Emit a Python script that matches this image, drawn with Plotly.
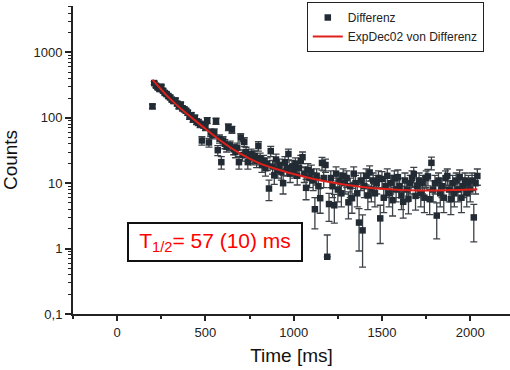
import numpy as np
import plotly.graph_objects as go

# --- data ---
time_ms = list(range(200, 2041, 10))
counts = [
    150, 340, 310, 290, 275, 300, 260, 240, 230, 215,
    205, 190, 180, 185, 165, 150, 160, 140, 135, 128,
    120, 105, 110, 95, 100, 88, 85, 80, 45, 78,
    72, 91, 42, 60, 55, 60, 89, 32, 48, 21,
    45, 40, 36, 72, 38, 66, 33, 30, 35, 21,
    50, 27, 43, 30, 21, 25, 28, 24, 26, 22,
    37, 24, 19, 22, 17, 20, 8.3, 31, 18, 13.2,
    23, 16, 19, 15, 10, 21, 17, 28, 14, 18,
    16, 20, 13, 17, 22, 25, 14, 8.5, 16, 12,
    15, 11, 4.0, 13, 9, 5.9, 20.4, 12, 19, 0.75,
    4.8, 12, 9, 4.6, 14, 8, 11, 7, 13, 10,
    12, 5.1, 9, 5.9, 14, 10, 7, 2.5, 11, 1.9,
    9, 13, 6.5, 14.6, 8, 11, 7, 10, 12, 2.9,
    11.6, 6, 9, 13, 7, 10, 5.5, 12, 8, 12.4,
    9, 6.5, 5.2, 11, 8, 5.8, 10, 12, 13.8, 6.4,
    9, 11, 7, 10, 6, 12, 12.7, 5.7, 20.5, 8,
    10, 3.2, 11, 7, 9, 6, 12, 12.9, 8, 5.7,
    10, 7, 11, 8, 12.4, 6, 9, 11, 7, 10,
    8, 11, 3.0, 10, 12.9,
]
cnt = np.array(counts, dtype=float)
err_plus = np.sqrt(cnt)
err_minus = np.where(err_plus < cnt, err_plus, 0.0)

fit_time = [200, 300, 400, 500, 600, 700, 800, 900, 1000, 1100, 1200, 1300,
            1400, 1500, 1600, 1700, 1800, 1900, 2000, 2040]
fit_counts = [385, 195, 112, 68, 42, 28, 20.5, 16.5, 13.8, 11.8, 10.4, 9.4,
              8.7, 8.2, 7.9, 7.75, 7.75, 7.85, 8.0, 8.1]

y_tickvals = [0.1, 1, 10, 100, 1000]
y_ticktext = ["0,1", "1", "10", "100", "1000"]
x_tickvals = [0, 500, 1000, 1500, 2000]

FONT = "Arial, Liberation Sans, sans-serif"
AX = "#222222"

minor_y = []
for d in [0.1, 1, 10, 100, 1000]:
    for k in range(2, 10):
        minor_y.append(d * k)

fig = go.Figure()
fig.add_trace(go.Scatter(
    x=time_ms, y=counts, mode="markers", name="Differenz",
    marker=dict(symbol="square", size=6.5, color="#222b33",
                line=dict(width=0)),
    error_y=dict(type="data", array=list(err_plus), arrayminus=list(err_minus),
                 symmetric=False, visible=True,
                 color="#3c4247", thickness=1.3, width=3.5),
))
fig.add_trace(go.Scatter(
    x=fit_time, y=fit_counts, mode="lines", name="ExpDec02 von Differenz",
    line=dict(color="#e0201b", width=2, shape="spline"),
))

fig.update_layout(
    width=510, height=370,
    margin=dict(l=73, r=0, t=2, b=56, autoexpand=False),
    paper_bgcolor="white", plot_bgcolor="white",
    font=dict(family=FONT, color=AX, size=13),
    showlegend=True,
    legend=dict(x=0.535, y=1.0, xanchor="left", yanchor="top",
                bgcolor="white", bordercolor="#222222", borderwidth=1,
                font=dict(family=FONT, size=12, color=AX),
                tracegroupgap=0, itemwidth=30, entrywidth=196),
)
fig.update_xaxes(
    range=[-250, 2225], showgrid=False, zeroline=False, automargin=False,
    showline=True, linecolor=AX, linewidth=2, mirror=False,
    ticks="outside", ticklen=5, tickwidth=1.5, tickcolor=AX,
    tickmode="array", tickvals=x_tickvals,
    minor=dict(ticks="outside", ticklen=3, tickwidth=1.5, tickcolor=AX,
               tickmode="array", tickvals=[-250, 250, 750, 1250, 1750]),
    tickfont=dict(size=13, family=FONT, color=AX),
    title=dict(text="Time [ms]", font=dict(size=19, family=FONT, color="#111"),
               standoff=10),
)
fig.update_yaxes(
    type="log", range=[-1, 3.71], showgrid=False, zeroline=False, automargin=False,
    domain=[0, 1 - 4 / 312],
    showline=True, linecolor=AX, linewidth=2, mirror=False,
    ticks="outside", ticklen=6, tickwidth=1.5, tickcolor=AX,
    tickmode="array", tickvals=y_tickvals, ticktext=y_ticktext,
    minor=dict(ticks="outside", ticklen=3.5, tickwidth=1.2, tickcolor=AX,
               tickmode="array", tickvals=minor_y),
    tickfont=dict(size=13, family=FONT, color=AX),
    title=dict(text="Counts", font=dict(size=19, family=FONT, color="#111"),
               standoff=12),
)
fig.add_annotation(
    x=554, y=0.095, xref="x", yref="y",
    text="T<sub>1/2</sub>= 57 (10) ms", showarrow=False,
    font=dict(size=21, family=FONT, color="#ff0000"),
    bgcolor="white", bordercolor="#111111", borderwidth=2,
    width=170, height=34, borderpad=1,
)

fig.write_html(
    "out.html",
    config={"displayModeBar": False},
    post_script="document.body.style.margin='0';document.body.style.padding='0';",
)
